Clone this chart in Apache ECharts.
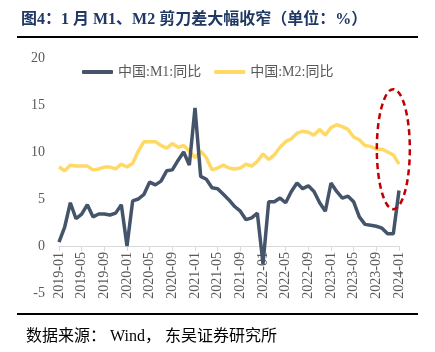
<!DOCTYPE html>
<html>
<head>
<meta charset="utf-8">
<script src="https://cdn.jsdelivr.net/npm/echarts@6/dist/echarts.min.js"></script>
<style>
html,body{margin:0;padding:0;background:#fff;}
#chart{width:435px;height:352px;}
</style>
</head>
<body>
<div id="chart"></div>
<script>
// ---- data ----
const months = [
  '2019-01','2019-02','2019-03','2019-04','2019-05','2019-06','2019-07','2019-08','2019-09','2019-10','2019-11','2019-12',
  '2020-01','2020-02','2020-03','2020-04','2020-05','2020-06','2020-07','2020-08','2020-09','2020-10','2020-11','2020-12',
  '2021-01','2021-02','2021-03','2021-04','2021-05','2021-06','2021-07','2021-08','2021-09','2021-10','2021-11','2021-12',
  '2022-01','2022-02','2022-03','2022-04','2022-05','2022-06','2022-07','2022-08','2022-09','2022-10','2022-11','2022-12',
  '2023-01','2023-02','2023-03','2023-04','2023-05','2023-06','2023-07','2023-08','2023-09','2023-10','2023-11','2023-12',
  '2024-01'
];
const m1 = [
  0.4, 2.0, 4.6, 2.9, 3.4, 4.4, 3.1, 3.4, 3.4, 3.3, 3.5, 4.4,
  0.0, 4.8, 5.0, 5.5, 6.8, 6.5, 6.9, 8.0, 8.1, 9.1, 10.0, 8.6,
  14.7, 7.4, 7.1, 6.2, 6.1, 5.5, 4.9, 4.2, 3.7, 2.8, 3.0, 3.5,
  -1.9, 4.7, 4.7, 5.1, 4.6, 5.8, 6.7, 6.1, 6.4, 5.8, 4.6, 3.7,
  6.7, 5.8, 5.1, 5.3, 4.7, 3.1, 2.3, 2.2, 2.1, 1.9, 1.3, 1.3,
  5.9
];
const m2 = [
  8.4, 8.0, 8.6, 8.5, 8.5, 8.5, 8.1, 8.2, 8.4, 8.4, 8.2, 8.7,
  8.4, 8.8, 10.1, 11.1, 11.1, 11.1, 10.7, 10.4, 10.9, 10.5, 10.7, 10.1,
  9.4, 10.1, 9.4, 8.1, 8.3, 8.6, 8.3, 8.2, 8.3, 8.7, 8.5, 9.0,
  9.8, 9.2, 9.7, 10.5, 11.1, 11.4, 12.0, 12.2, 12.1, 11.8, 12.4, 11.8,
  12.6, 12.9, 12.7, 12.4, 11.6, 11.3, 10.7, 10.6, 10.3, 10.3, 10.0, 9.7,
  8.7
];
const seriesNames = ['中国:M1:同比', '中国:M2:同比'];
const yTicks = { min: -5, max: 20, interval: 5 };
const titleText = '图4：1 月 M1、M2 剪刀差大幅收窄（单位：%）';
const sourceText = '数据来源： Wind， 东吴证券研究所';
// highlighted region (category, value centre)
const highlight = { cat: '2023-12', value: 10.3 };

const serif = '"Liberation Serif", "Times New Roman", "Noto Sans CJK SC", serif';
const chart = echarts.init(document.getElementById('chart'), null, { renderer: 'canvas' });

const option = {
  backgroundColor: '#fff',
  animation: false,
  title: {
    text: titleText,
    left: 16, top: 7,
    textStyle: { fontFamily: serif, fontSize: 16, fontWeight: 'bold', color: '#1F3864' }
  },
  legend: {
    data: seriesNames,
    left: 77, top: 60,
    itemWidth: 31, itemHeight: 4,
    itemGap: 13,
    icon: 'roundRect',
    textStyle: { fontFamily: serif, fontSize: 14, color: '#595959' }
  },
  grid: { left: 59, right: 36, top: 58, bottom: 59, containLabel: false },
  xAxis: {
    type: 'category',
    data: months,
    boundaryGap: false,
    axisLine: { onZero: false, lineStyle: { color: '#D9D9D9', width: 1 } },
    axisTick: { show: true, interval: 3, length: 5, lineStyle: { color: '#D9D9D9' } },
    axisLabel: { interval: 3, rotate: 90, fontFamily: serif, fontSize: 14, color: '#595959', margin: 6 },
    splitLine: { show: false }
  },
  yAxis: {
    type: 'value',
    min: yTicks.min, max: yTicks.max, interval: yTicks.interval,
    axisLine: { show: false },
    axisTick: { show: false },
    splitLine: { show: false },
    axisLabel: { fontFamily: serif, fontSize: 14, color: '#595959', margin: 14 }
  },
  series: [
    {
      name: seriesNames[0], type: 'line', data: m1, symbol: 'none',
      lineStyle: { color: '#44546A', width: 3.5 }, itemStyle: { color: '#44546A' }, z: 3
    },
    {
      name: seriesNames[1], type: 'line', data: m2, symbol: 'none',
      lineStyle: { color: '#FFD966', width: 3.5 }, itemStyle: { color: '#FFD966' }, z: 2
    }
  ]
};
chart.setOption(option);

// place the category axis on the zero line
const zeroPx = chart.convertToPixel({ yAxisIndex: 0 }, 0);
const bottomPx = chart.convertToPixel({ yAxisIndex: 0 }, yTicks.min);
const c = chart.convertToPixel({ gridIndex: 0 }, [highlight.cat, highlight.value]);
chart.setOption({
  xAxis: { offset: zeroPx - bottomPx },
  graphic: [
    { type: 'line', shape: { x1: 17, y1: 37, x2: 418, y2: 37 }, style: { stroke: '#000', lineWidth: 2 } },
    { type: 'line', shape: { x1: 17, y1: 314, x2: 418, y2: 314 }, style: { stroke: '#000', lineWidth: 2 } },
    { type: 'text', left: 26, top: 329, style: { text: sourceText, fontFamily: serif, fontSize: 16, fill: '#000' } },
    { type: 'ellipse', shape: { cx: c[0], cy: c[1], rx: 16.5, ry: 60 }, style: { fill: 'none', stroke: '#C00000', lineWidth: 2.5, lineDash: [6, 4] }, z: 10 }
  ]
});
</script>
</body>
</html>
